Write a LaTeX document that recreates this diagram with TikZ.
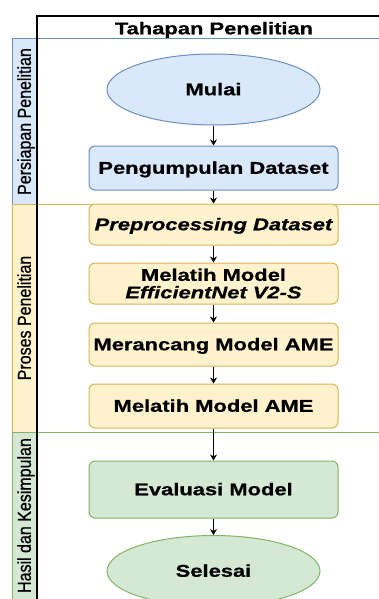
\documentclass[tikz,border=0pt]{standalone}
\usepackage{fontspec}
\setmainfont{Liberation Sans}
\newfontfamily\widefont[FakeStretch=1.29, BoldFeatures={FakeBold=0.8}, BoldItalicFeatures={FakeBold=0.8}]{Liberation Sans}
\newfontfamily\lanefont[FakeBold=0.9]{Liberation Sans}
\usetikzlibrary{arrows.meta,shapes.geometric}
\definecolor{bfill}{HTML}{DAE8FC}
\definecolor{bline}{HTML}{6C8EBF}
\definecolor{yfill}{HTML}{FFF2CC}
\definecolor{yline}{HTML}{D6B656}
\definecolor{gfill}{HTML}{D5E8D4}
\definecolor{gline}{HTML}{82B366}
\begin{document}
\begin{tikzpicture}[x=1pt,y=-1pt,
  boxtext/.style={font=\widefont\bfseries\fontsize{17}{17.5}\selectfont, text height=15pt, text depth=3.5pt, inner sep=0pt, align=center},
  stepbox/.style={boxtext, draw, line width=1pt, rounded corners=6pt, minimum width=249pt},
  oval/.style={boxtext, ellipse, draw, line width=1pt, minimum width=213pt, minimum height=71pt},
  lanetext/.style={font=\lanefont\fontsize{16}{16}\selectfont, rotate=90, text height=14pt, text depth=3.9pt, inner sep=0pt},
  arr/.style={line width=0.9pt, -{Stealth[length=6pt,width=7pt]}}
]
\useasboundingbox (0,0) rectangle (379,599);
% lane header columns
\fill[bfill] (12,39) rectangle (37,204);
\fill[yfill] (12,204) rectangle (37,432);
\fill[gfill] (12,432) rectangle (37,610);
\draw[bline, line width=1pt] (391,39) -- (12,39) -- (12,204);
\draw[yline, line width=1pt] (391,204) -- (12,204) -- (12,432);
\draw[gline, line width=1pt] (391,432) -- (12,432) -- (12,610);
% pool frame
\draw[line width=1.2pt] (37,610) -- (37,16) -- (391,16);
\node[font=\widefont\bfseries\fontsize{17}{17.5}\selectfont, anchor=base, inner sep=0pt] (title) at (214,34.3) {Tahapan Penelitian};
% lane labels
\node[lanetext] (l1) at (25.8,121.5) {\scalebox{1}[1.17]{Persiapan Penelitian}};
\node[lanetext] (l2) at (25.8,318) {\scalebox{1}[1.17]{Proses Penelitian}};
\node[lanetext] (l3) at (25.8,515.5) {\scalebox{1}[1.17]{Hasil dan Kesimpulan}};
% steps
\node[oval, fill=bfill, draw=bline] (mulai) at (213.5,89.5) {Mulai};
\node[stepbox, fill=bfill, draw=bline, minimum height=44pt] (peng) at (213.5,168) {Pengumpulan Dataset};
\node[stepbox, fill=yfill, draw=yline, minimum height=41pt] (prep) at (213.5,224.5) {\itshape Preprocessing Dataset};
\node[stepbox, fill=yfill, draw=yline, minimum height=41pt, text height=, text depth=] (eff) at (213.5,283.5) {Melatih Model\\\itshape EfficientNet V2-S};
\node[stepbox, fill=yfill, draw=yline, minimum height=43pt] (ranc) at (213.5,344.5) {Merancang Model AME};
\node[stepbox, fill=yfill, draw=yline, minimum height=44pt] (latih) at (213.5,406) {Melatih Model AME};
\node[stepbox, fill=gfill, draw=gline, minimum height=57pt] (eval) at (213.5,489.5) {Evaluasi Model};
\node[oval, fill=gfill, draw=gline] (selesai) at (213.5,571) {Selesai};
% connectors
\draw[arr] (mulai) -- (peng);
\draw[arr] (peng) -- (prep);
\draw[arr] (prep) -- (eff);
\draw[arr] (eff) -- (ranc);
\draw[arr] (ranc) -- (latih);
\draw[arr] (latih) -- (eval);
\draw[arr] (eval) -- (selesai);
\end{tikzpicture}
\end{document}
